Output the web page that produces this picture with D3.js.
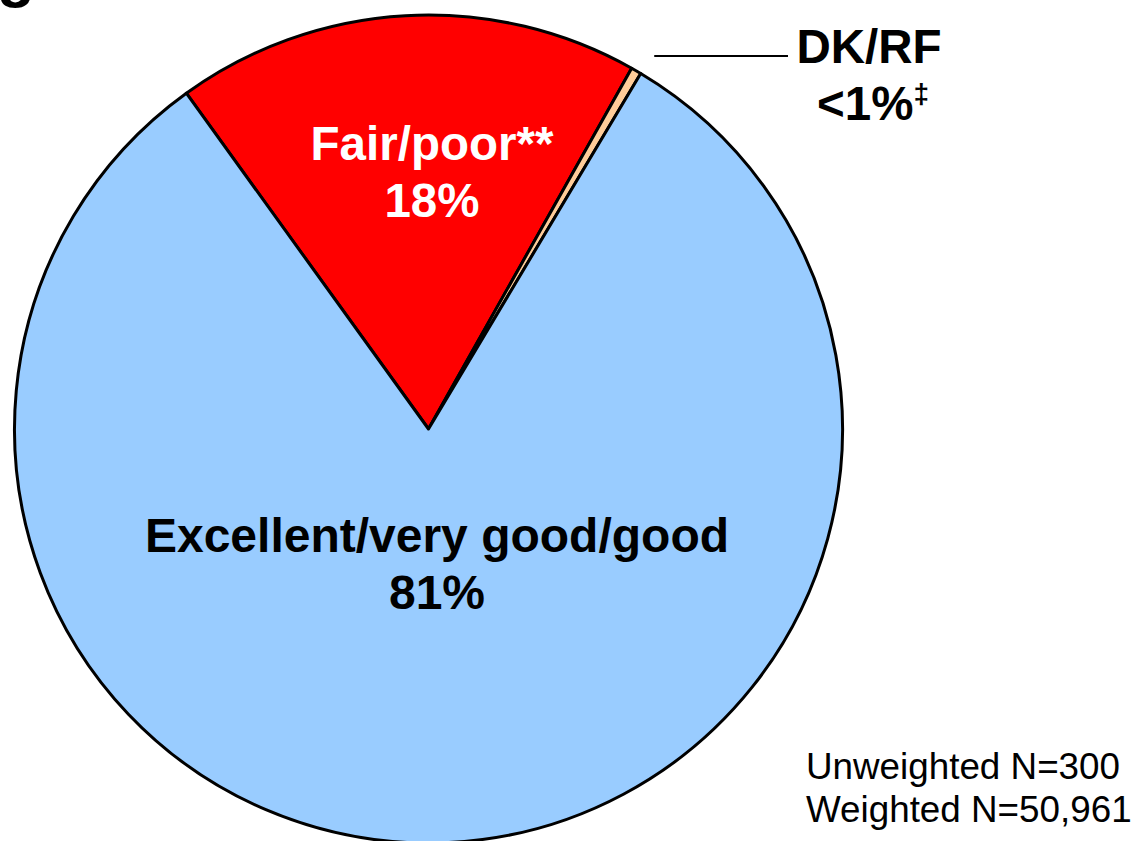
<!DOCTYPE html>
<html>
<head>
<meta charset="utf-8">
<script src="https://cdn.jsdelivr.net/npm/d3@7/dist/d3.min.js"></script>
<style>
  html, body { margin: 0; padding: 0; background: #fff; }
  svg { display: block; }
  text { font-family: "Liberation Sans", Arial, Helvetica, sans-serif; }
</style>
</head>
<body>
<svg id="chart" width="1133" height="841"></svg>
<script>
// Self-rated health, share of respondents
const categories = ["Fair/poor**", "DK/RF", "Excellent/very good/good"];
const values = [18, 0.4, 81];
const valueLabels = ["18%", "<1%", "81%"];
const colors = ["#FF0000", "#FFCC99", "#99CCFF"];
const footnotes = ["Unweighted N=300", "Weighted N=50,961"];

const svg = d3.select("#chart");
const cx = 428.5, cy = 429, r = 414;
const start = -35.8 * Math.PI / 180;

// Descender of the title line above the chart
svg.append("text")
  .attr("x", -3).attr("y", -5.5)
  .attr("font-size", 62).attr("font-weight", "bold")
  .attr("fill", "#000")
  .text("g");

const pie = d3.pie().sort(null).value(d => d.value)
  .startAngle(start).endAngle(start + 2 * Math.PI);
const arc = d3.arc().innerRadius(0).outerRadius(r);

const data = categories.map((c, i) => ({ name: c, value: values[i], label: valueLabels[i], color: colors[i] }));
const arcs = pie(data);

const g = svg.append("g").attr("transform", `translate(${cx},${cy})`);
g.selectAll("path.slice")
  .data(arcs)
  .join("path")
  .attr("class", "slice")
  .attr("d", arc)
  .attr("fill", d => d.data.color)
  .attr("stroke", "#000")
  .attr("stroke-width", 3)
  .attr("stroke-linejoin", "round");

// Labels inside the two large slices
const fair = arcs[0], exc = arcs[2];
function inner(a, x, y, size, color) {
  const t = svg.append("text")
    .attr("text-anchor", "middle")
    .attr("font-size", size).attr("font-weight", "bold")
    .attr("fill", color);
  t.append("tspan").attr("x", x).attr("y", y).text(a.data.name);
  t.append("tspan").attr("x", x).attr("y", y + 57).text(a.data.label);
}
inner(fair, 432, 160, 47.5, "#fff");
inner(exc, 437, 552, 48, "#000");

// Callout for the thin DK/RF slice
const dk = arcs[1];
const mid = (dk.startAngle + dk.endAngle) / 2;
const px = cx + Math.sin(mid) * (r + 6);
svg.append("line")
  .attr("x1", px + 15).attr("y1", 56)
  .attr("x2", 788).attr("y2", 56)
  .attr("stroke", "#000").attr("stroke-width", 2);

svg.append("text")
  .attr("x", 869).attr("y", 63)
  .attr("text-anchor", "middle")
  .attr("font-size", 47.5).attr("font-weight", "bold").attr("fill", "#000")
  .text(dk.data.name);
svg.append("text")
  .attr("x", 873).attr("y", 120)
  .attr("text-anchor", "middle")
  .attr("font-size", 47.5).attr("font-weight", "bold").attr("fill", "#000")
  .text(dk.data.label)
  .append("tspan")
  .attr("font-size", 28).attr("dy", -17)
  .text("\u2021");

// Sample size notes
svg.selectAll("text.note")
  .data(footnotes)
  .join("text")
  .attr("class", "note")
  .attr("x", 806)
  .attr("y", (d, i) => 779 + i * 43)
  .attr("font-size", 36.8)
  .attr("fill", "#000")
  .text(d => d);
</script>
</body>
</html>
